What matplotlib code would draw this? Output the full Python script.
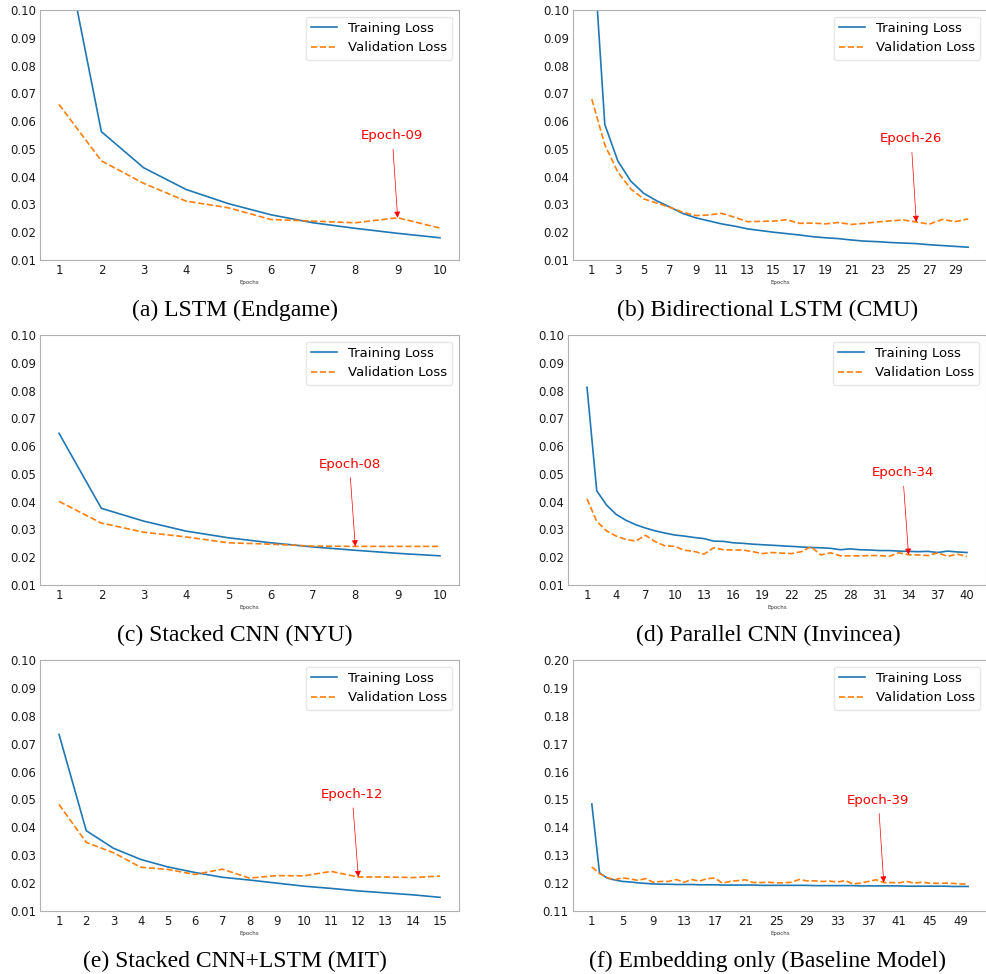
import numpy as np
import matplotlib
matplotlib.use("Agg")
import matplotlib.pyplot as plt

# ---------------- data ----------------
a_train = [0.133, 0.0562, 0.0432, 0.0354, 0.0303, 0.0263, 0.0234, 0.0214, 0.0196, 0.0180]
a_val = [0.0660, 0.0457, 0.0376, 0.0312, 0.0288, 0.0246, 0.0240, 0.0234, 0.0252, 0.0215]

b_train = [0.131, 0.0588, 0.0457, 0.0384, 0.0340, 0.0313, 0.0291, 0.0268, 0.0252, 0.0241,
           0.0230, 0.0222, 0.0212, 0.0206, 0.0200, 0.0195, 0.0190, 0.0184, 0.0180, 0.0177,
           0.0172, 0.0168, 0.0166, 0.0163, 0.0161, 0.0159, 0.0155, 0.0152, 0.0149, 0.0146]
b_val = [0.0679, 0.0515, 0.0417, 0.0356, 0.0320, 0.0305, 0.0290, 0.0272, 0.0260, 0.0262,
         0.0268, 0.0254, 0.0238, 0.0239, 0.0240, 0.0245, 0.0232, 0.0233, 0.0230, 0.0235,
         0.0228, 0.0232, 0.0237, 0.0241, 0.0244, 0.0237, 0.0229, 0.0246, 0.0238, 0.0248]

c_train = [0.0646, 0.0376, 0.0330, 0.0294, 0.0270, 0.0252, 0.0237, 0.0225, 0.0214, 0.0205]
c_val = [0.0401, 0.0323, 0.0290, 0.0273, 0.0252, 0.0247, 0.0240, 0.0239, 0.0239, 0.0239]

d_train = [0.0812, 0.0439, 0.0388, 0.0354, 0.0333, 0.0317, 0.0305, 0.0295, 0.0287, 0.0280,
           0.0276, 0.0271, 0.0267, 0.0258, 0.0257, 0.0252, 0.0250, 0.0247, 0.0245, 0.0243,
           0.0241, 0.0239, 0.0237, 0.0235, 0.0234, 0.0232, 0.0227, 0.0230, 0.0227, 0.0226,
           0.0224, 0.0224, 0.0222, 0.0221, 0.0220, 0.0221, 0.0217, 0.0222, 0.0219, 0.0217]
d_val = [0.0410, 0.0329, 0.0295, 0.0276, 0.0264, 0.0258, 0.0279, 0.0256, 0.0241, 0.0239,
         0.0225, 0.0221, 0.0211, 0.0234, 0.0227, 0.0226, 0.0226, 0.0220, 0.0213, 0.0217,
         0.0215, 0.0213, 0.0220, 0.0238, 0.0208, 0.0216, 0.0205, 0.0205, 0.0205, 0.0206,
         0.0206, 0.0203, 0.0216, 0.0209, 0.0208, 0.0206, 0.0216, 0.0203, 0.0211, 0.0203]

e_train = [0.0733, 0.0388, 0.0325, 0.0285, 0.0258, 0.0238, 0.0221, 0.0211, 0.0200, 0.0189,
           0.0181, 0.0172, 0.0165, 0.0158, 0.0149]
e_val = [0.0482, 0.0346, 0.0309, 0.0257, 0.0249, 0.0231, 0.0250, 0.0218, 0.0227, 0.0226,
         0.0242, 0.0222, 0.0222, 0.0220, 0.0225]

f_train = [0.1484, 0.1237, 0.1218, 0.1211, 0.1206, 0.1204, 0.1201, 0.1199, 0.1197, 0.1196,
           0.1196, 0.1195, 0.1195, 0.1195, 0.1194, 0.1194, 0.1194, 0.1193, 0.1193, 0.1193,
           0.1193, 0.1193, 0.1192, 0.1192, 0.1192, 0.1192, 0.1192, 0.1192, 0.1192, 0.1191,
           0.1191, 0.1191, 0.1191, 0.1191, 0.1191, 0.1190, 0.1190, 0.1190, 0.1190, 0.1190,
           0.1190, 0.1189, 0.1189, 0.1189, 0.1189, 0.1189, 0.1189, 0.1188, 0.1188, 0.1188]
f_val = [0.1258, 0.1234, 0.1220, 0.1212, 0.1219, 0.1215, 0.1210, 0.1216, 0.1203, 0.1206,
         0.1206, 0.1213, 0.1203, 0.1213, 0.1207, 0.1216, 0.1218, 0.1200, 0.1206, 0.1209,
         0.1212, 0.1202, 0.1202, 0.1203, 0.1201, 0.1201, 0.1203, 0.1213, 0.1208, 0.1208,
         0.1206, 0.1207, 0.1204, 0.1209, 0.1197, 0.1200, 0.1206, 0.1212, 0.1202, 0.1202,
         0.1201, 0.1206, 0.1200, 0.1203, 0.1200, 0.1199, 0.1200, 0.1199, 0.1197, 0.1197]

captions = ["(a) LSTM (Endgame)", "(b) Bidirectional LSTM (CMU)", "(c) Stacked CNN (NYU)",
            "(d) Parallel CNN (Invincea)", "(e) Stacked CNN+LSTM (MIT)",
            "(f) Embedding only (Baseline Model)"]
best_epochs = [9, 26, 8, 34, 12, 39]
labels_best = ["Epoch-09", "Epoch-26", "Epoch-08", "Epoch-34", "Epoch-12", "Epoch-39"]
text_pos = [(8.87, 0.0547), (25.6, 0.0536), (7.86, 0.0535), (33.4, 0.0504), (11.77, 0.0518), (38.3, 0.1498)]
tick_steps = [1, 2, 1, 3, 1, 4]
ylims = [(0.01, 0.10), (0.01, 0.10), (0.01, 0.10), (0.01, 0.10), (0.01, 0.10), (0.11, 0.20)]

trains = [a_train, b_train, c_train, d_train, e_train, f_train]
vals = [a_val, b_val, c_val, d_val, e_val, f_val]

# ---------------- layout (pixels) ----------------
W, H = 987, 974
boxes = [(40, 10, 459, 260), (573, 10, 987, 260),
         (40, 335, 459, 585), (568, 335, 986, 585),
         (40, 660, 459, 911), (573, 660, 987, 911)]
cap_y = [310, 310, 635, 635, 961, 961]
cap_x = [235, 768, 235, 768, 235, 768]

fig = plt.figure(figsize=(W / 100, H / 100), dpi=100)

for i in range(6):
    l, t, r, b = boxes[i]
    ax = fig.add_axes([l / W, 1 - b / H, (r - l) / W, (b - t) / H])
    tr = trains[i]
    va = vals[i]
    ep = np.arange(1, len(tr) + 1)
    ax.plot(ep, tr, color="#1f77b4", lw=1.2, label="Training Loss")
    ax.plot(ep, va, color="#ff7f0e", lw=1.2, ls="--", label="Validation Loss")
    n = len(tr)
    ax.set_xlim(1 - 0.05 * (n - 1), n + 0.05 * (n - 1))
    ax.set_ylim(*ylims[i])
    y0, y1 = ylims[i]
    yt = np.round(np.arange(y0, y1 + 1e-9, 0.01), 2)
    ax.set_yticks(yt)
    ax.set_yticklabels(["%.2f" % v for v in yt])
    ax.set_xticks(np.arange(1, n + 1, tick_steps[i]))
    ax.tick_params(labelsize=8.4, length=0, pad=3, labelcolor="#1a1a1a")
    for s in ax.spines.values():
        s.set_color("#b0b0b0")
    ax.set_xlabel("Epochs", fontsize=4, labelpad=2, color="#333333")
    be = best_epochs[i]
    ax.annotate(labels_best[i], xy=(be, va[be - 1]), xytext=text_pos[i],
                color="red", fontsize=9.5, ha="center", va="center",
                arrowprops=dict(arrowstyle="-|>", color="red", lw=0.5,
                                mutation_scale=9, shrinkA=3, shrinkB=0))
    leg = ax.legend(loc="upper right", fontsize=9.5, frameon=True)
    leg.get_frame().set_edgecolor("#e0e0e0")
    fig.text(cap_x[i] / W, 1 - cap_y[i] / H, captions[i], ha="center", va="center",
             fontsize=17, family="Liberation Serif")

fig.savefig("out.png", dpi=100)
